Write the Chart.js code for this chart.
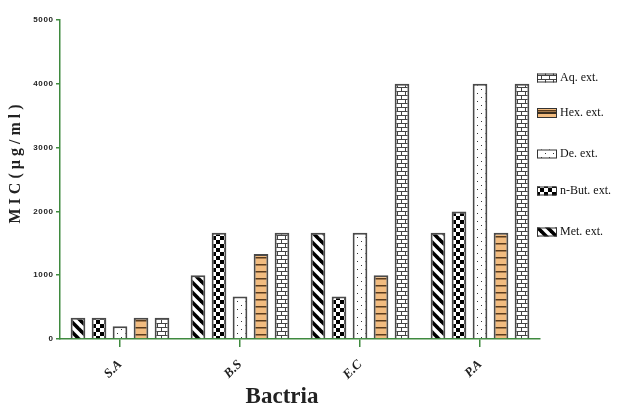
<!DOCTYPE html>
<html>
<head>
<meta charset="utf-8">
<script src="https://cdn.jsdelivr.net/npm/chart.js@4"></script>
<style>
  html, body { margin: 0; padding: 0; background: #fff; }
  #wrap { width: 619px; height: 419px; position: relative; }
</style>
</head>
<body>
<div id="wrap"><canvas id="micChart" width="619" height="419"></canvas></div>
<script>
const CATEGORIES = ["S.A", "B.S", "E.C", "P.A"];
const SERIES_LABELS = ["Met. ext.", "n-But. ext.", "De. ext.", "Hex. ext.", "Aq. ext."];
const MET_VALUES = [333, 1000, 1666, 1666];
const NBUT_VALUES = [333, 1666, 666, 2000];
const DE_VALUES = [200, 666, 1666, 4000];
const HEX_VALUES = [333, 1333, 1000, 1666];
const AQ_VALUES = [333, 1666, 4000, 4000];
const Y_TICKS = [0, 1000, 2000, 3000, 4000, 5000];
const X_TITLE = "Bactria";
const Y_TITLE = "M I C ( µ g / m l )";

const AXIS_GREEN = "#3f8a3f";
const ORANGE = "#f2bc80";

const makeTile = (w, h, draw) => {
  const c = document.createElement("canvas");
  c.width = w;
  c.height = h;
  const g = c.getContext("2d");
  draw(g, w, h);
  return document.createElement("canvas").getContext("2d").createPattern(c, "repeat");
};

const stripePattern = makeTile(10, 10, (g, w, h) => {
  g.fillStyle = "#fff";
  g.fillRect(0, 0, w, h);
  g.strokeStyle = "#000";
  g.lineWidth = 3.6;
  g.lineCap = "square";
  [-10, 0, 10].forEach((off) => {
    g.beginPath();
    g.moveTo(off - 2, -2);
    g.lineTo(off + 12, 12);
    g.stroke();
  });
});

const checkerPattern = makeTile(8, 8, (g, w, h) => {
  g.fillStyle = "#fff";
  g.fillRect(0, 0, w, h);
  g.fillStyle = "#000";
  g.fillRect(0, 0, 4, 4);
  g.fillRect(4, 4, 4, 4);
});

const dotPattern = makeTile(8, 8, (g, w, h) => {
  g.fillStyle = "#fff";
  g.fillRect(0, 0, w, h);
  g.fillStyle = "#333";
  g.fillRect(1, 1, 1, 1);
  g.fillRect(5, 5, 1, 1);
});

const hexPattern = makeTile(4, 7, (g, w, h) => {
  g.fillStyle = ORANGE;
  g.fillRect(0, 0, w, h);
  g.fillStyle = "#5a3b1c";
  g.fillRect(0, 5, w, 1.5);
});

const brickPattern = makeTile(8, 8, (g, w, h) => {
  g.fillStyle = "#fff";
  g.fillRect(0, 0, w, h);
  g.fillStyle = "#444";
  g.fillRect(0, 3, w, 1);
  g.fillRect(0, 7, w, 1);
  g.fillRect(1, 0, 1, 3);
  g.fillRect(5, 4, 1, 3);
});

const PATTERNS = [stripePattern, checkerPattern, dotPattern, hexPattern, brickPattern];
const VALUE_SETS = [MET_VALUES, NBUT_VALUES, DE_VALUES, HEX_VALUES, AQ_VALUES];

// legend rows, top to bottom (reverse dataset order)
const LEGEND_X = 537;
const LEGEND_ROWS_Y = [78, 113, 154, 191, 232];

const sideLegendPlugin = {
  id: "sideLegend",
  afterDraw(chart) {
    const { ctx } = chart;
    const sets = chart.data.datasets.slice().reverse();
    ctx.save();
    sets.forEach((ds, i) => {
      const y = LEGEND_ROWS_Y[i];
      const h = ds.label.startsWith("Hex") ? 10 : 9;
      ctx.fillStyle = ds.backgroundColor;
      ctx.fillRect(LEGEND_X, y - h / 2, 20, h);
      if (ds.label.startsWith("Hex")) {
        ctx.fillStyle = "#000";
        ctx.fillRect(LEGEND_X, y - 0.75, 20, 1.5);
      }
      ctx.strokeStyle = "#333";
      ctx.lineWidth = 1;
      ctx.strokeRect(LEGEND_X + 0.5, y - h / 2 + 0.5, 19, h - 1);
      ctx.fillStyle = "#111";
      ctx.font = "12px 'Liberation Serif', serif";
      ctx.textBaseline = "middle";
      ctx.textAlign = "left";
      ctx.fillText(ds.label, LEGEND_X + 23, y);
    });
    ctx.restore();
  },
};

const axisTitlePlugin = {
  id: "axisTitles",
  afterDraw(chart) {
    const { ctx } = chart;
    ctx.save();
    ctx.fillStyle = "#222";
    ctx.textAlign = "center";
    ctx.textBaseline = "middle";
    ctx.font = "bold 23px 'Liberation Serif', serif";
    ctx.fillText(X_TITLE, 282, 397);
    ctx.translate(16, 164);
    ctx.rotate(-Math.PI / 2);
    ctx.font = "bold 16px 'Liberation Serif', serif";
    ctx.fillText(Y_TITLE, 0, 0);
    ctx.restore();
  },
};

const buildChart = () => {
  const ctx = document.getElementById("micChart");
  return new Chart(ctx, {
    type: "bar",
    data: {
      labels: CATEGORIES,
      datasets: SERIES_LABELS.map((label, i) => ({
        label,
        data: VALUE_SETS[i],
        backgroundColor: PATTERNS[i],
        borderColor: "#4a4a4a",
        borderWidth: 2,
        barPercentage: 0.7,
        categoryPercentage: 0.875,
      })),
    },
    plugins: [sideLegendPlugin, axisTitlePlugin],
    options: {
      responsive: false,
      animation: false,
      layout: { padding: { top: 20, right: 79, bottom: 0, left: 0 } },
      plugins: {
        legend: { display: false },
        tooltip: { enabled: false },
      },
      scales: {
        x: {
          afterFit(scale) {
            scale.height = 80;
          },
          border: { color: AXIS_GREEN, width: 1.5 },
          grid: {
            offset: false,
            drawOnChartArea: false,
            drawTicks: true,
            tickLength: 8,
            color: AXIS_GREEN,
            lineWidth: 1.5,
          },
          ticks: {
            color: "#222",
            maxRotation: 45,
            minRotation: 45,
            padding: 10,
            font: { family: "'Liberation Serif', serif", size: 13, style: "italic", weight: "bold" },
          },
        },
        y: {
          min: 0,
          max: 5000,
          afterFit(scale) {
            scale.width = 60;
          },
          afterBuildTicks(scale) {
            scale.ticks = Y_TICKS.map((value) => ({ value }));
          },
          border: { color: AXIS_GREEN, width: 1.5 },
          grid: {
            drawOnChartArea: false,
            drawTicks: true,
            tickLength: 4,
            color: AXIS_GREEN,
            lineWidth: 1.5,
          },
          ticks: {
            color: "#222",
            padding: 3,
            font: { family: "Arial, 'Liberation Sans', sans-serif", size: 8, weight: "bold" },
            callback(value) {
              return String(value).split("").join("\u200A");
            },
          },
        },
      },
    },
  });
};

buildChart();
</script>
</body>
</html>
